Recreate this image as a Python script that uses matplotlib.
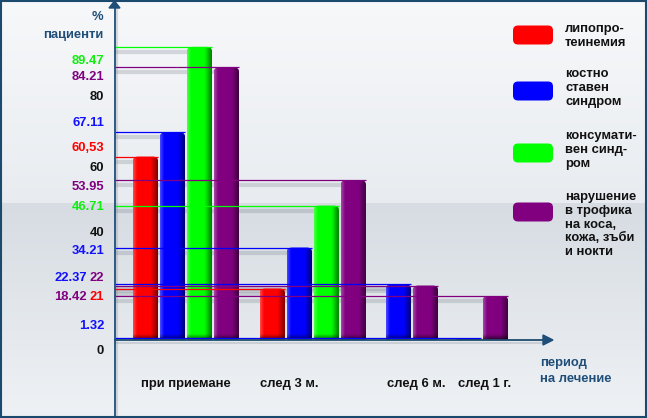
import numpy as np
import matplotlib
matplotlib.use('Agg')
import matplotlib.pyplot as plt
import matplotlib.transforms as mtransforms
from matplotlib.patches import FancyBboxPatch, Polygon, Rectangle
from matplotlib.lines import Line2D

plt.rcParams['font.family'] = ['Liberation Sans', 'DejaVu Sans']

# data (the original chart is not drawn to a linear scale)
periods = ['при приемане', 'след 3 м.', 'след 6 м.', 'след 1 г.']
names = ['липопро-\nтеинемия', 'костно\nставен\nсиндром',
         'консумати-\nвен синд-\nром', 'нарушение\nв трофика\nна коса,\nкожа, зъби\nи нокти']
lipo = [60.53, 21, None, None]
bone = [67.11, 34.21, 22.37, 1.32]
cons = [89.47, 46.71, None, None]
troph = [84.21, 53.95, 22, 18.42]
lipo_txt = ['60,53', '21', '', '']
bone_txt = ['67.11', '34.21', '22.37', '1.32']
cons_txt = ['89.47', '46.71', '', '']
troph_txt = ['84.21', '53.95', '22', '18.42']
tick_vals = [0, 40, 60, 80]
tick_txt = ['0', '40', '60', '80']

series = [lipo, bone, cons, troph]
texts = [lipo_txt, bone_txt, cons_txt, troph_txt]
colors = ['#ff0000', '#0000ff', '#00ff00', '#800080']
txt_colors = ['#ff0000', '#1010ff', '#10ee10', '#800080']

# layout
group_x = [1.5, 6.2, 9.87, 12.46]
label_x = [1.5, 5.31, 10.02, 12.54]
barw = 0.926
# (dx, dy) in pixels for the value labels on the left
shift = {'89.47': (-10.5, 14), '84.21': (-10.5, 9.6), '67.11': (-10.5, -9.5),
         '60,53': (-10.5, -8.6), '53.95': (-10.5, 7), '46.71': (-10.5, 1.4),
         '34.21': (-10.5, 3.6), '22.37': (-27.5, -6.4), '22': (-10.5, -7.6),
         '18.42': (-27.5, 1), '21': (-10.5, 8.5), '1.32': (-10.5, -12),
         '80': (-10.5, 13), '60': (-10.5, 9.5), '40': (-10.5, 4.6), '0': (-10.5, 11)}

W, H = 647, 418
fig = plt.figure(figsize=(W / 100, H / 100), dpi=100)
pix = mtransforms.Affine2D().scale(1, -1).translate(0, H).scale(0.01) + fig.dpi_scale_trans

# background
bg = fig.add_axes([0, 0, 1, 1])
bg.set_axis_off()
rows = np.arange(H)
grad = np.zeros((H, 1, 3))
top = rows < 203
t1 = rows[top] / 203.0
t2 = (rows[~top] - 203) / (H - 203.0)
c1a, c1b = np.array([247, 248, 250]), np.array([232, 236, 240])
c2a, c2b = np.array([214, 220, 226]), np.array([239, 242, 245])
grad[top, 0, :] = (c1a + (c1b - c1a) * t1[:, None]) / 255
grad[~top, 0, :] = (c2a + (c2b - c2a) * t2[:, None]) / 255
bg.imshow(grad, aspect='auto', extent=(0, 1, 0, 1))
bg.set_xlim(0, 1)
bg.set_ylim(0, 1)

ax = fig.add_axes([114.5 / W, (H - 340) / H, (553 - 114.5) / W, 335 / H])
ax.patch.set_alpha(0)
for s in ax.spines.values():
    s.set_visible(False)
ax.set_yscale('function', functions=(lambda v: np.sign(v) * np.abs(v) ** 1.2,
                                     lambda v: np.sign(v) * np.abs(v) ** (1 / 1.2)))
xl = (114.5 - 145.5) / 27
ax.set_xlim(xl, (553 - 145.5) / 27)
ax.set_ylim(0, 100)
ax.set_yticks([])
ax.set_xticks(label_x)
ax.set_xticklabels(periods, fontsize=9.4, fontweight='bold', color='#111111')
ax.tick_params(axis='x', length=0, pad=27)

shadow = mtransforms.offset_copy(ax.transData, fig=fig, x=0, y=-5, units='dots')
bars = []
for gi in range(len(periods)):
    present = [si for si in range(4) if series[si][gi] is not None]
    for rank, si in enumerate(present):
        v = series[si][gi]
        x = group_x[gi] + (rank - (len(present) - 1) / 2)
        b = ax.bar(x, v, width=barw, color=colors[si], zorder=3)[0]
        bars.append((b, colors[si]))
        ax.hlines(v, xl, x + barw / 2, colors=colors[si], lw=0.9, zorder=5)
        ax.hlines(v, xl, x, colors='#7d8790', lw=3, alpha=0.28, transform=shadow, zorder=2)
        t = texts[si][gi]
        dx, dy = shift[t]
        ax.annotate(t, xy=(0, v), xycoords=('axes fraction', 'data'), xytext=(dx, -dy),
                    textcoords='offset pixels', ha='right', va='center',
                    color=txt_colors[si], fontsize=9.4, fontweight='bold', annotation_clip=False)

for v, t in zip(tick_vals, tick_txt):
    dx, dy = shift[t]
    ax.annotate(t, xy=(0, v), xycoords=('axes fraction', 'data'), xytext=(dx, -dy),
                textcoords='offset pixels', ha='right', va='center',
                color='#111111', fontsize=9.4, fontweight='bold', annotation_clip=False)


def shade(color, w, h):
    base = np.array(matplotlib.colors.to_rgb(color))
    xp = np.arange(w)[None, :] + 0.5
    yp = np.arange(h)[:, None] + 0.5
    light = np.clip(1 - xp / 4, 0, 1) * 0.3
    dark_x = np.clip((xp - (w - 8)) / 8, 0, 1) * 0.6
    dark_y = np.clip((yp - (h - 6)) / 6, 0, 1) * 0.65
    img = base[None, None, :] * (1 - light[..., None]) + light[..., None]
    img = img * (1 - dark_x[..., None]) * (1 - dark_y[..., None])
    return np.clip(img, 0, 1)


# 3d-like shading and rounded tops for the bars
for b, c in bars:
    (x0, y0), (x1, y1) = ax.transData.transform([(b.get_x(), 0), (b.get_x() + b.get_width(), b.get_height())])
    yb, yt = H - y0, H - y1
    w = max(int(round(x1 - x0)), 1)
    h = max(int(round(yb - yt)), 1)
    clip = FancyBboxPatch((x0, yt), x1 - x0, (yb - yt) + 8,
                          boxstyle='round,pad=0,rounding_size=5', transform=pix)
    b.set_clip_path(clip)
    im = ax.imshow(shade(c, w, h), extent=(x0, x1, yb, yt), transform=pix,
                   aspect='auto', zorder=3.5, interpolation='bilinear')
    im.set_clip_path(clip)
ax.set_xlim(xl, (553 - 145.5) / 27)
ax.set_ylim(0, 100)

# axes with arrows
navy = '#1f4e79'
ax.add_line(Line2D([117, 117], [8, H], transform=pix, color='#8a939c', lw=1.5, alpha=0.3, clip_on=False, zorder=1))
ax.add_line(Line2D([114.5, 545], [342.5, 342.5], transform=pix, color='#8a939c', lw=1.5, alpha=0.3, clip_on=False, zorder=1))
ax.add_line(Line2D([114.5, 114.5], [6, H], transform=pix, color=navy, lw=1.3, clip_on=False, zorder=6))
ax.add_line(Line2D([114.5, 545], [340, 340], transform=pix, color='#1d4d6e', lw=1.3, clip_on=False, zorder=6))
ax.add_patch(Polygon([[109, 8], [120, 8], [114.5, 1]], closed=True, transform=pix, color=navy, clip_on=False, zorder=6))
ax.add_patch(Polygon([[543, 335], [543, 345], [553, 340]], closed=True, transform=pix, color=navy, clip_on=False, zorder=6))

fig.text(103, 17, '%', transform=pix, ha='right', va='center', color=navy, fontsize=9.4, fontweight='bold')
fig.text(103, 35, 'пациенти', transform=pix, ha='right', va='center', color=navy, fontsize=9.4, fontweight='bold')
fig.text(540, 363, 'период', transform=pix, ha='left', va='center', color=navy, fontsize=9.4, fontweight='bold')
fig.text(540, 379, 'на лечение', transform=pix, ha='left', va='center', color=navy, fontsize=9.4, fontweight='bold')

# legend
box_y = [35, 91, 153, 212]
text_y = [23, 68, 130, 191]
for i in range(4):
    fig.add_artist(FancyBboxPatch((513, box_y[i] - 9.5), 40, 19, boxstyle='round,pad=0,rounding_size=5',
                                  transform=pix, facecolor=colors[i] if i != 2 else '#00ff00', edgecolor='none'))
    fig.text(565, text_y[i], names[i], transform=pix, ha='left', va='top', color='#111111',
             fontsize=9.4, fontweight='bold', linespacing=1.2)

fig.add_artist(Rectangle((1, 1), W - 2, H - 2, transform=pix, fill=False, edgecolor='#1b4a6e', lw=1.5))

fig.savefig('out.png', dpi=100)
